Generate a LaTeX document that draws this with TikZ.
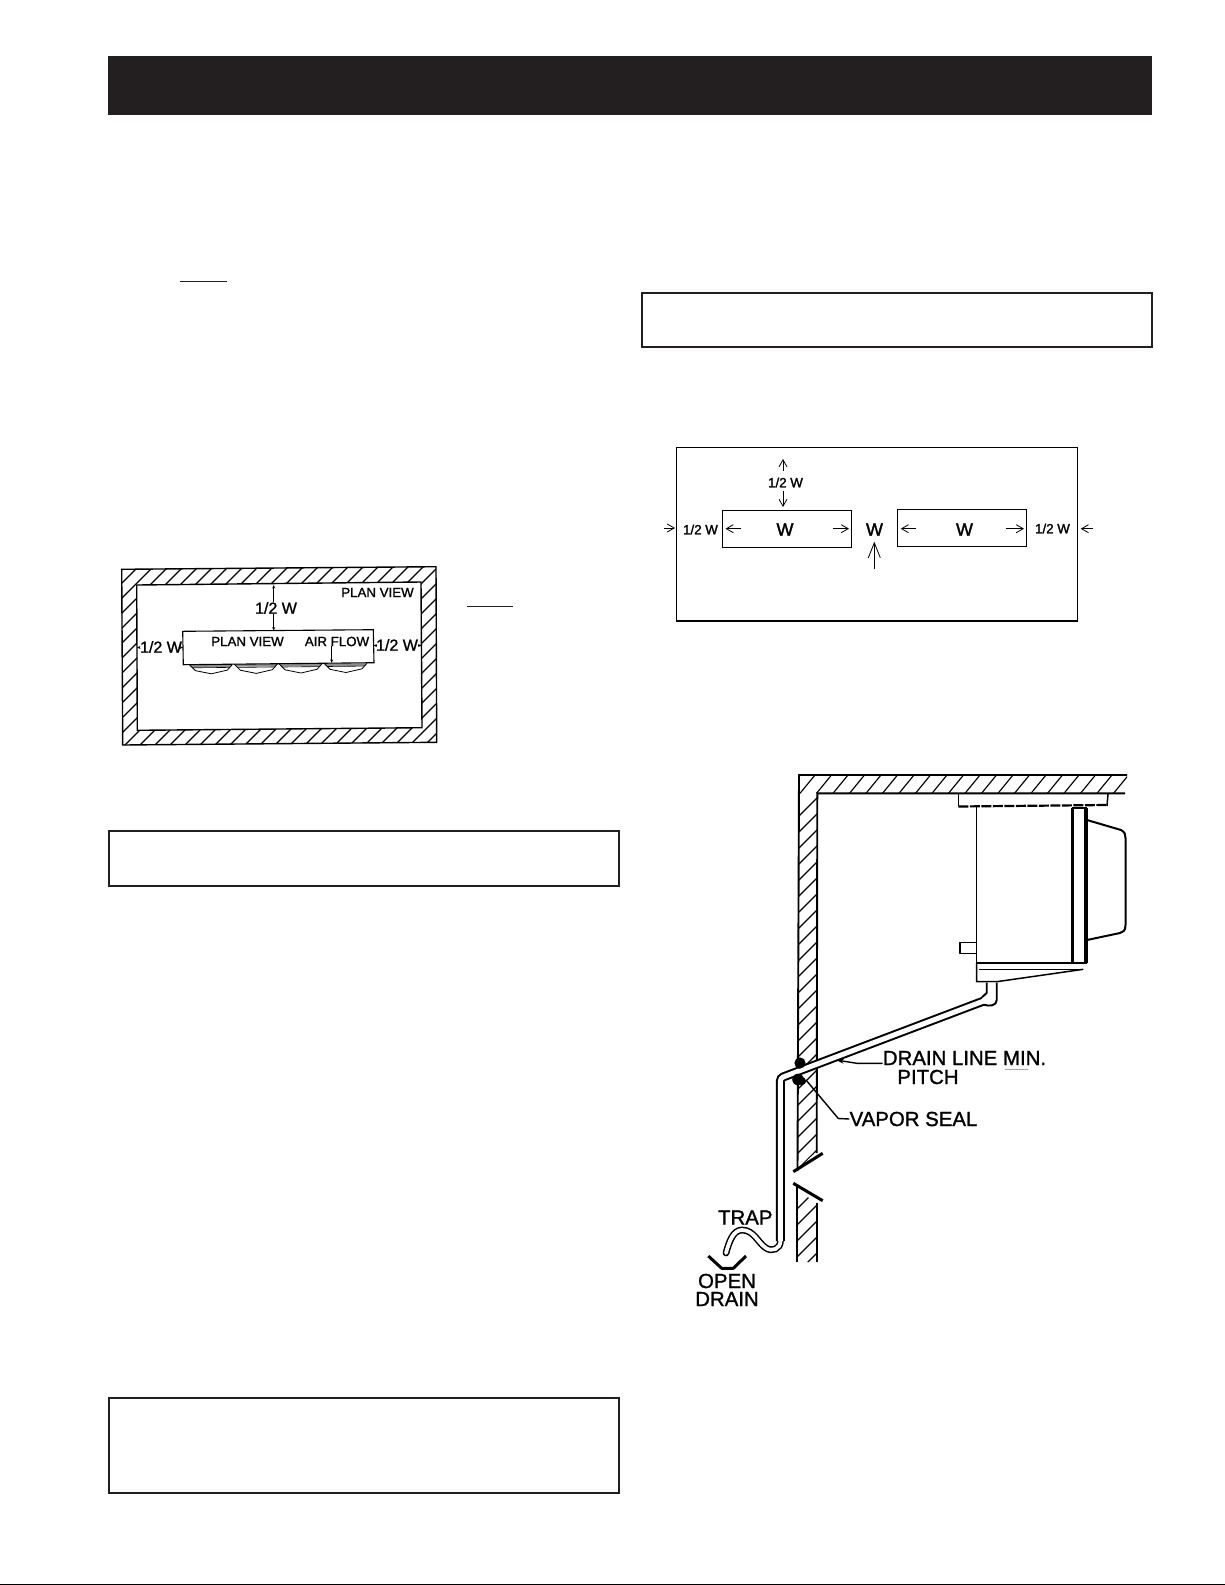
\documentclass[tikz,border=0pt]{standalone}
\usepackage{fontspec}
\setmainfont{Liberation Sans}
\newfontfamily\heavyA[FakeBold=1.2]{Liberation Sans}
\newfontfamily\heavyB[FakeBold=1.8]{Liberation Sans}
\usetikzlibrary{arrows.meta}
\definecolor{ink}{HTML}{231F20}
\tikzset{
  panel/.style={draw=ink,line width=2pt,fill=white},
  thinbox/.style={draw=black,line width=1.1pt},
  hatchline/.style={draw=black,line width=1.15pt},
  wallline/.style={draw=black,line width=1.9pt},
  unitline/.style={draw=black,line width=1.5pt,line join=round},
  lbl/.style={inner sep=0pt,anchor=center,text=black},
  planS/.style={lbl,font=\heavyA\fontsize{13.3}{14}\selectfont},
  planL/.style={lbl,font=\heavyA\fontsize{16}{18}\selectfont},
  gapS/.style={lbl,font=\heavyB\fontsize{13.3}{14}\selectfont},
  gapW/.style={lbl,font=\heavyB\fontsize{18}{18}\selectfont},
  call/.style={lbl,font=\heavyA\fontsize{20.4}{21}\selectfont},
  smallarrow/.style={draw=black,line width=0.7pt,-{Stealth[length=3.5pt,width=3pt]}},
  openarrow/.style={draw=black,line width=0.8pt,-{Straight Barb[length=7pt,width=8pt,line width=0.8pt]}},
  leader/.style={draw=black,line width=1.4pt}
}
\begin{document}
\begin{tikzpicture}[x=1pt,y=-1pt]
\useasboundingbox (0,0) rectangle (1225,1585);
\fill[white] (0,0) rectangle (1225,1585);
% header and page rule
\fill[ink] (108,56) rectangle (1152,115);
\draw[black,line width=1.4pt] (0,1584.2) -- (1225,1584.2);
\draw[ink,line width=1.2pt] (180,281.5) -- (227,281.5);
\draw[ink,line width=1.2pt] (467,606.5) -- (513,606.5);
% panels
\draw[panel] (108.5,831) rectangle (619,885.5);
\draw[panel] (108.5,1398) rectangle (619,1493);
\draw[panel] (642,293) rectangle (1152,346.5);

% ---- plan view with hatched wall
\begin{scope}
  \clip (121.7,569.3) -- (436,566.7) -- (436.7,742.3) -- (122.7,745) -- cycle;
  \foreach \c in {690,705,...,1185} {
    \draw[hatchline] ({\c-560},560) -- ({\c-750},750);
  }
  \fill[white] (136.7,585) -- (421,582) -- (422,727.7) -- (137.3,730.3) -- cycle;
\end{scope}
\draw[thinbox,line width=1.4pt] (121.7,569.3) -- (436,566.7) -- (436.7,742.3) -- (122.7,745) -- cycle;
\draw[thinbox,line width=1.4pt] (136.7,585) -- (421,582) -- (422,727.7) -- (137.3,730.3) -- cycle;
% fans
\foreach \fx/\fy in {189.3/664.6,234.3/664.2,279/663.8,324/663.3} {
  \begin{scope}[shift={(\fx,\fy)}]
    \fill[black!45] (0,0) -- (43,0) -- (41,2.5) -- (2,2.5) -- cycle;
    \draw[black,line width=0.8pt,line join=round] (0,0) -- (6,6) -- (22,9.2) -- (38,5.5) -- (43,0);
    \draw[black,line width=0.6pt] (3,3.2) -- (40,2.8);
  \end{scope}
}
\draw[thinbox] (182.7,631.3) -- (373.3,629.7) -- (374,662.7) -- (183.3,664.7) -- cycle;
\node[planS] (pvA) at (377.5,592.5) {PLAN VIEW};
\node[planL] (htop) at (276,608) {1/2 W};
\node[planL] (hleft) at (161,647) {1/2 W};
\node[planL] (hright) at (397,645) {1/2 W};
\node[planS] (pvB) at (247.5,641.5) {PLAN VIEW};
\node[planS] (afl) at (337,641.5) {AIR FLOW};
\coordinate (pTop) at (273.7,585);
\coordinate (pUnit) at (273.7,630.5);
\coordinate (pWL) at (137,647.5);
\coordinate (pUL) at (183,647.5);
\coordinate (pUR) at (373.5,645.5);
\coordinate (pWR) at (421.5,645.5);
\coordinate (pAir) at (331.7,662.8);
\draw[smallarrow] (htop.north -| pTop) -- (pTop);
\draw[smallarrow] (htop.south -| pUnit) -- (pUnit);
\draw[smallarrow] (hleft.west |- pWL) -- (pWL);
\draw[smallarrow] (hleft.east |- pUL) -- (pUL);
\draw[smallarrow] (hright.west |- pUR) -- (pUR);
\draw[smallarrow] (hright.east |- pWR) -- (pWR);
\draw[smallarrow] (afl.south -| pAir) -- (pAir);

% ---- spacing diagram
\draw[thinbox] (676.7,447.7) rectangle (1077.7,621);
\draw[thinbox] (722.7,510.7) rectangle (851.7,547.3);
\draw[thinbox] (897.3,509.3) rectangle (1026.7,546.3);
\node[gapS] (gTop) at (785.5,482.5) {1/2 W};
\node[gapS] (gLeft) at (700.5,529.5) {1/2 W};
\node[gapS] (gRight) at (1052.5,528.5) {1/2 W};
\node[gapW] (wL) at (785,529.5) {W};
\node[gapW] (wM) at (874.5,529.5) {W};
\node[gapW] (wR) at (964.5,529.5) {W};
\draw[openarrow] (783,471) -- (783,459);
\draw[openarrow] (783,491) -- (783,507);
\draw[openarrow] (663.5,528) -- (675,528);
\draw[openarrow] (740.7,528.7) -- (725.5,528.7);
\draw[openarrow] (833.3,528.7) -- (849,528.7);
\draw[openarrow] (916,528.7) -- (900.7,528.7);
\draw[openarrow] (1006,528.7) -- (1024,528.7);
\draw[openarrow] (1092.7,528.7) -- (1080.7,528.7);
\draw[draw=black,line width=0.8pt,-{Straight Barb[length=15pt,width=12pt,line width=0.8pt]}] (874.3,569) -- (874.3,541.7);

% ---- wall and ceiling section
\begin{scope}
  \clip (799,775) -- (1127,775) -- (1127,793.3) -- (817.3,793.3) -- (817,1151) -- (797,1170) -- cycle;
  \foreach \c in {800,816.5,...,1140} {
    \draw[hatchline] (\c,793.3) -- ({\c+15},775);
  }
  \foreach \y in {800,816,...,1184} {
    \draw[hatchline] (797,{\y+18}) -- (817.5,{\y-2.5});
  }
\end{scope}
\begin{scope}
  \clip (796.5,1190) -- (817,1203) -- (817,1262) -- (796.5,1262) -- cycle;
  \foreach \y in {1200,1216,...,1280} {
    \draw[hatchline] (797,{\y+9}) -- (817.5,{\y-11.5});
  }
\end{scope}
% wall outlines
\draw[wallline] (1127,775) -- (799,775) -- (797.5,1171);
\draw[wallline] (1125,793.3) -- (817.3,793.3) -- (816.7,1153);
\draw[wallline] (797.3,1186) -- (797.3,1262);
\draw[wallline] (816.7,1203) -- (816.7,1262);
\draw[black,line width=3pt] (793.3,1171.7) -- (822.7,1153.3);
\draw[black,line width=3pt] (793.3,1183.3) -- (822.7,1200.7);

% ---- cooler unit
\draw[unitline] (958.3,794) -- (958.3,806);
\draw[unitline] (1108,794) -- (1107,806);
\draw[black,line width=2.2pt,dash pattern=on 10pt off 1.5pt] (958.3,806.5) -- (1107,805);
\draw[unitline] (976.7,807) -- (976.7,963) -- (1072,963);
\draw[black,line width=3.2pt] (1072.7,808) -- (1072.7,963);
\draw[black,line width=3.2pt] (1086,808) -- (1086,963);
\draw[black,line width=2.8pt] (1071.5,808) -- (1087,808);
\draw[black,line width=2.8pt] (1071.5,963) -- (1087,963);
\draw[black,line width=2pt,line join=round]
  (1087,820) -- (1121,830) .. controls (1125,832) and (1125.5,835) .. (1125.5,838)
  -- (1125.5,925) .. controls (1125.5,931) and (1123,932) .. (1120,933) -- (1087,940);
\draw[unitline] (976.7,942.7) -- (960,942.7) -- (960,953.3) -- (976.7,953.3);
\draw[unitline] (976.7,963) -- (976.7,981.7) -- (996.7,981.7) -- (1083.3,969.3);
\draw[unitline] (978.5,969.3) -- (1083.3,969.3);

% drain pipe
\draw[black,line width=9pt,rounded corners=3pt] (985,1000.5) -- (780.4,1078) -- (780.4,1241);
\draw[black,line width=6.8pt,line cap=round]
  (780.4,1241) .. controls (780.4,1249) and (772,1252) .. (766,1248)
  .. controls (758,1243) and (754,1230) .. (742,1230)
  .. controls (733,1230) and (729,1242) .. (726,1253);
\draw[white,line width=5pt,rounded corners=3pt] (985,1000.5) -- (780.4,1078) -- (780.4,1241);
\draw[white,line width=3.8pt,line cap=round]
  (780.4,1241) .. controls (780.4,1249) and (772,1252) .. (766,1248)
  .. controls (758,1243) and (754,1230) .. (742,1230)
  .. controls (733,1230) and (729,1242) .. (726,1253);
% elbow
\fill[white] (986.7,982.7) -- (986.7,993) -- (982,997.5) -- (984,1004.5)
  .. controls (989,1006) and (996.7,1006) .. (996.7,1000) -- (996.7,982.7) -- cycle;
\draw[black,line width=1.9pt,line join=round] (986.7,982.7) -- (986.7,993) -- (982,997.2);
\draw[black,line width=1.9pt,line join=round] (984,1004.7)
  .. controls (989,1006.5) and (996.7,1006) .. (996.7,1000) -- (996.7,982.7);
% vapor seal
\fill[black] (800,1063) circle (5.6pt);
\fill[black] (799,1065) circle (3.6pt);
\fill[black] (798,1079.5) circle (5.8pt);
\fill[black] (802,1081) circle (4pt);
% open drain
\draw[black,line width=3pt,line join=round] (708.3,1256) -- (721.7,1268.3) -- (733.3,1268.3) -- (746,1256);

% labels
\node[call] (trap) at (745.3,1217.5) {TRAP};
\node[call] (openL) at (727,1281) {OPEN};
\node[call] (drainL) at (727,1299) {DRAIN};
\node[call] (dline) at (964.5,1058) {DRAIN LINE MIN.};
\node[call] (pitch) at (928,1077) {PITCH};
\node[call] (vapor) at (913.5,1119) {VAPOR SEAL};
\draw[black!35,line width=0.8pt] (1005,1069.3) -- (1028,1069.3);
\coordinate (pitchTip) at (836,1060);
\coordinate (sealTip) at (806,1080);
\draw[leader,-{Stealth[length=8pt,width=5pt]}] (dline.west |- 0,1063.3) -- (857,1063.3) -- (pitchTip);
\draw[leader] (vapor.west) -- (838.3,1118.5) -- (sealTip);
\end{tikzpicture}
\end{document}
